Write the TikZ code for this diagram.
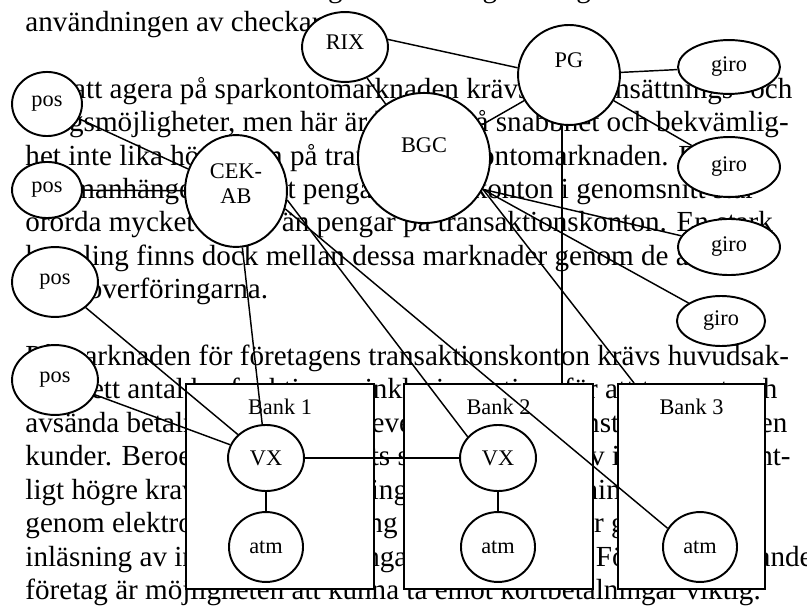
\documentclass[tikz,border=0pt]{standalone}
\usepackage{fontspec}
\setmainfont{Liberation Serif}
\usetikzlibrary{shapes.geometric}
\tikzset{
  row/.style={anchor=base west,inner sep=0pt,font=\fontsize{12}{13.8}\selectfont},
  tag/.style={font=\fontsize{9.2}{10.5}\selectfont,inner sep=0pt,align=center},
  bubble/.style={ellipse,draw,fill=white,line width=.8pt,inner sep=0pt,tag},
  bankbox/.style={draw,fill=white,line width=.8pt,anchor=north west,inner sep=0pt,
    minimum height=84.5pt},
  wire/.style={line width=.6pt},
}

\begin{document}
\begin{tikzpicture}[x=0.412pt,y=-0.412pt]
  \useasboundingbox (0,0) rectangle (807,610);
  % the page text under the drawing
  \foreach \y/\t [count=\i] in {
      -2.5/{har lett till att det numera görs fler och giro till giro ökat},
      31.5/{användningen av checkar.},
      98.3/{För att agera på sparkontomarknaden krävs enkla insättnings- och},
      131.7/{uttagsmöjligheter, men här är kraven på snabbhet och bekvämlig-},
      165.1/{het inte lika höga som på transaktionskontomarknaden. Detta},
      198.5/{sammanhänger med att pengar på sparkonton i genomsnitt står},
      231.9/{orörda mycket längre än pengar på transaktionskonton. En stark},
      265.3/{koppling finns dock mellan dessa marknader genom de automa-},
      298.7/{tiska överföringarna.},
      365.5/{På marknaden för företagens transaktionskonton krävs huvudsak-},
      398.9/{ligen ett antal basfunktioner, inklusive rutiner för att ta emot och},
      432.3/{avsända betalningar samt att leverera diverse tjänster åt företagen},
      465.7/{kunder. Beroende på företagets storlek och behov innebär väsent-},
      499.1/{ligt högre krav på en avstämning för dessa betalningar},
      532.5/{genom elektronisk filöverföring av betalfiler eller genom direkt},
      566.0/{inläsning av in- och utbetalningar via bankgirot. För alla handlande},
      599.4/{företag är möjligheten att kunna ta emot kortbetalningar viktig.}}
    \node[row] (r\i) at (25,\y) {\t};

  % banks
  \node[bankbox,minimum width=77.5pt,label={[tag,anchor=north,yshift=-6.5pt]north:Bank 1}]
    (b1) at (185,383) {};
  \node[bankbox,minimum width=77.9pt,label={[tag,anchor=north,yshift=-6.5pt]north:Bank 2}]
    (b2) at (403,383) {};
  \node[bankbox,minimum width=60.6pt,label={[tag,anchor=north,yshift=-6.5pt]north:Bank 3}]
    (b3) at (617,383) {};
  \coordinate (b2in) at (562,383);
  \coordinate (b3in) at (634,383);

  % clearing and giro
  \node[bubble,minimum width=35.4pt,minimum height=28.8pt,
        label={[tag,yshift=2pt]center:RIX}] (RIX) at (345,47) {};
  \node[bubble,minimum width=42pt,minimum height=41.2pt,
        label={[tag,yshift=6.2pt]center:PG}] (PG) at (569,75) {};
  \node[bubble,minimum width=54.4pt,minimum height=53.6pt,
        label={[tag,yshift=5.4pt]center:BGC}] (BGC) at (424,158) {};
  \node[bubble,minimum width=42pt,minimum height=46.1pt,
        label={[tag,yshift=3pt]center:CEK-\\AB}] (CEK) at (236,191) {};
  \node[bubble,minimum width=42pt,minimum height=22.2pt] (giro1) at (729,67) {giro};
  \node[bubble,minimum width=42pt,minimum height=24.7pt] (giro2) at (729,167) {giro};
  \node[bubble,minimum width=42pt,minimum height=23.1pt] (giro3) at (729,247) {giro};
  \node[bubble,minimum width=36.3pt,minimum height=20.6pt] (giro4) at (721,321) {giro};
  % shops
  \node[bubble,minimum width=28.8pt,minimum height=26.4pt] (pos1) at (47,104) {pos};
  \node[bubble,minimum width=28.8pt,minimum height=23.1pt] (pos2) at (47,190) {pos};
  \node[bubble,minimum width=35.4pt,minimum height=28.8pt] (pos3) at (55,282) {pos};
  \node[bubble,minimum width=35.4pt,minimum height=28.8pt] (pos4) at (55,380) {pos};
  % inside the banks
  \node[bubble,minimum width=31.3pt,minimum height=27.2pt] (vx1) at (266,458) {VX};
  \node[bubble,minimum width=31.3pt,minimum height=27.2pt] (vx2) at (498,458) {VX};
  \node[bubble,minimum width=30.5pt,minimum height=28.8pt] (atm1) at (266,547) {atm};
  \node[bubble,minimum width=30.5pt,minimum height=28.8pt] (atm2) at (498,547) {atm};
  \node[bubble,minimum width=30.5pt,minimum height=28.8pt] (atm3) at (700,547) {atm};

  % connectors
  \draw[wire] (RIX.10) -- (PG.172);
  \draw[wire] (RIX) -- (BGC);
  \draw[wire] (PG) -- (BGC);
  \draw[wire] (PG) -- (giro1);
  \draw[wire] (PG) -- (giro2);
  \draw[wire] (PG.south -| b2in) -- (b2in);
  \draw[wire] (BGC.-28) -- (giro3);
  \draw[wire] (BGC.-28) -- (giro4);
  \draw[wire] (BGC.-28) -- (b3in);
  \draw[wire] (pos1) -- (CEK);
  \draw[wire] (pos2) -- (CEK);
  \draw[wire] (pos3) -- (vx1);
  \draw[wire] (pos4) -- (vx1);
  \draw[wire] (CEK) -- (vx1);
  \draw[wire] (CEK.-10) -- (vx2.145);
  \draw[wire] (CEK.-20) -- (atm3.150);
  \draw[wire] (vx1) -- (vx2);
  \draw[wire] (vx1) -- (atm1);
  \draw[wire] (vx2) -- (atm2);
\end{tikzpicture}
\end{document}
